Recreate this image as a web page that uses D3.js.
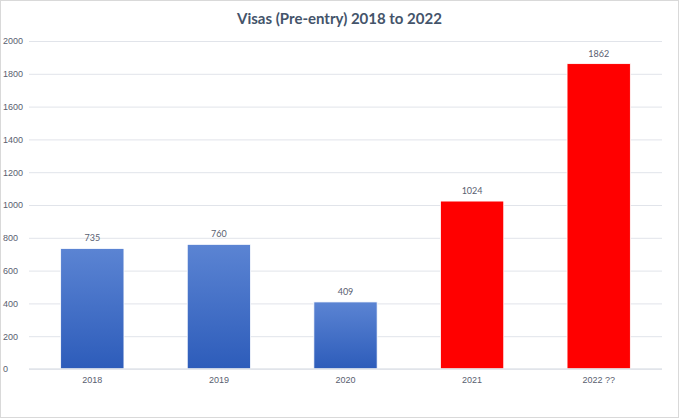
<!DOCTYPE html>
<html>
<head>
<meta charset="utf-8">
<script src="https://cdn.jsdelivr.net/npm/d3@7"></script>
<style>
  body { margin: 0; background: #fff; }
  svg { display: block; font-family: Lato, "Open Sans", sans-serif; }
</style>
</head>
<body>
<svg id="chart" width="679" height="418"></svg>
<script>
const years = ['2018', '2019', '2020', '2021', '2022 ??'];
const visas = [735, 760, 409, 1024, 1862];
const barKinds = ['blue', 'blue', 'blue', 'red', 'red'];
const yTicks = [0, 200, 400, 600, 800, 1000, 1200, 1400, 1600, 1800, 2000];

const width = 679, height = 418;
const margin = {top: 41, right: 17, bottom: 49, left: 29};

const svg = d3.select('#chart');

// chart border
svg.append('rect')
  .attr('x', 0.5).attr('y', 0.5)
  .attr('width', width - 1).attr('height', height - 1)
  .attr('fill', '#fff')
  .attr('stroke', '#d9d9d9');

const defs = svg.append('defs');
const grad = defs.append('linearGradient')
  .attr('id', 'blueGrad')
  .attr('x1', 0).attr('y1', 0).attr('x2', 0).attr('y2', 1);
grad.append('stop').attr('offset', '0%').attr('stop-color', '#5b84d3');
grad.append('stop').attr('offset', '100%').attr('stop-color', '#2d5cba');

const xScale = d3.scaleBand()
  .domain(years)
  .range([margin.left, width - margin.right])
  .paddingInner(0.5)
  .paddingOuter(0.25);

const yScale = d3.scaleLinear()
  .domain([0, 2000])
  .range([height - margin.bottom, margin.top]);

// gridlines + y labels
const yAxis = d3.axisLeft(yScale)
  .tickValues(yTicks)
  .tickFormat(d3.format('d'))
  .tickSize(-(width - margin.left - margin.right))
  .tickPadding(7);

const yAxisG = svg.append('g')
  .attr('transform', `translate(${margin.left},0)`)
  .call(yAxis);
yAxisG.select('.domain').remove();
yAxisG.selectAll('line').attr('stroke', '#e1e4ea').attr('stroke-width', 1);
yAxisG.selectAll('text')
  .attr('fill', '#596070')
  .attr('font-size', 9)
  .attr('text-anchor', 'start')
  .attr('x', -26);

// bars
svg.selectAll('.bar')
  .data(visas)
  .enter().append('rect')
    .attr('class', 'bar')
    .attr('x', (d, i) => xScale(years[i]))
    .attr('y', d => yScale(d))
    .attr('width', xScale.bandwidth())
    .attr('height', d => yScale(0) - yScale(d))
    .attr('fill', (d, i) => barKinds[i] === 'red' ? '#ff0000' : 'url(#blueGrad)')
    .attr('stroke', '#fff')
    .attr('stroke-width', 0.8);

// x axis line
svg.append('line')
  .attr('x1', margin.left).attr('x2', width - margin.right)
  .attr('y1', yScale(0)).attr('y2', yScale(0))
  .attr('stroke', '#e1e4ea').attr('stroke-width', 1.5);

const xAxis = d3.axisBottom(xScale).tickSize(0).tickPadding(8);
const xAxisG = svg.append('g')
  .attr('transform', `translate(0,${yScale(0)})`)
  .call(xAxis);
xAxisG.select('.domain').remove();
xAxisG.selectAll('text')
  .attr('fill', '#596070')
  .attr('font-size', 9);

// data labels
svg.selectAll('.value-label')
  .data(visas)
  .enter().append('text')
    .attr('class', 'value-label')
    .attr('x', (d, i) => xScale(years[i]) + xScale.bandwidth() / 2)
    .attr('y', d => yScale(d) - 7)
    .attr('text-anchor', 'middle')
    .attr('fill', '#596070')
    .attr('font-size', 9)
    .text(d => d);

// title
svg.append('text')
  .attr('x', width / 2)
  .attr('y', 24)
  .attr('text-anchor', 'middle')
  .attr('fill', '#44546a')
  .attr('font-size', 15)
  .attr('font-weight', 'bold')
  .text('Visas (Pre-entry) 2018 to 2022');
</script>
</body>
</html>
